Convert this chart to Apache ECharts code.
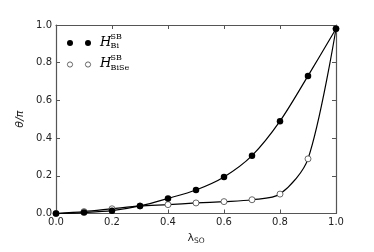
<!DOCTYPE html>
<html><head><meta charset="utf-8">
<script src="https://cdn.jsdelivr.net/npm/echarts@6/dist/echarts.min.js"></script>
<style>html,body{margin:0;padding:0;background:#fff}#c{width:374px;height:252px}</style>
</head><body><div id="c"></div>
<script>
const lambdaSO = [0.0, 0.1, 0.2, 0.3, 0.4, 0.5, 0.6, 0.7, 0.8, 0.9, 1.0];
const thetaBi = [0.0, 0.005, 0.015, 0.04, 0.08, 0.125, 0.194, 0.307, 0.49, 0.73, 0.98];
const thetaBiSe = [0.0, 0.01, 0.025, 0.04, 0.047, 0.056, 0.063, 0.073, 0.103, 0.29, 0.98];
const xTicks = [0.0, 0.2, 0.4, 0.6, 0.8, 1.0];
const yTicks = [0.0, 0.2, 0.4, 0.6, 0.8, 1.0];

const chart = echarts.init(document.getElementById('c'), null, {renderer: 'canvas'});
const axisCol = '#555';
const lab = {fontFamily: 'DejaVu Sans', fontSize: 10, color: '#222'};
function axisBase(extra) {
  return Object.assign({
    type: 'value', min: 0, max: 1, interval: 0.2,
    axisLine: {show: true, onZero: false, lineStyle: {color: axisCol, width: 1.2}},
    axisTick: {show: true, inside: true, length: 4, lineStyle: {color: axisCol}},
    splitLine: {show: false}
  }, extra);
}
chart.setOption({
  animation: false,
  grid: {left: 56, right: 38, top: 25, bottom: 38.5},
  xAxis: [
    axisBase({position: 'bottom',
      axisLabel: Object.assign({margin: 4, formatter: v => v.toFixed(1)}, lab),
      name: '{l|λ}{s|SO}', nameLocation: 'middle', nameGap: 17,
      nameTextStyle: {rich: {l: {fontFamily: 'DejaVu Sans', fontSize: 11, color: '#222'},
        s: {fontFamily: 'DejaVu Sans', fontSize: 7.5, color: '#222', verticalAlign: 'bottom', padding: [6, 0, 0, 0]}}}}),
    axisBase({position: 'top', axisLabel: {show: false}})
  ],
  yAxis: [
    axisBase({position: 'left',
      axisLabel: Object.assign({margin: 4, formatter: v => v.toFixed(1)}, lab),
      name: 'θ/π', nameLocation: 'middle', nameGap: 29, nameRotate: 90,
      nameTextStyle: {fontFamily: 'DejaVu Sans', fontStyle: 'italic', fontSize: 11, color: '#222'}}),
    axisBase({position: 'right', axisLabel: {show: false}})
  ],
  series: [
    {type: 'line', data: lambdaSO.map((x, i) => [x, thetaBi[i]]), smooth: 0.3,
     symbol: 'circle', symbolSize: 6.5, lineStyle: {color: '#000', width: 1.2},
     itemStyle: {color: '#000'}, z: 3},
    {type: 'line', data: lambdaSO.map((x, i) => [x, thetaBiSe[i]]), smooth: 0.3,
     symbol: 'circle', symbolSize: 6, lineStyle: {color: '#000', width: 1.2},
     itemStyle: {color: '#fff', borderColor: '#444', borderWidth: 0.8}, z: 2}
  ],
  graphic: [
    {type: 'circle', shape: {cx: 70, cy: 43, r: 3}, style: {fill: '#000'}},
    {type: 'circle', shape: {cx: 88, cy: 43, r: 3}, style: {fill: '#000'}},
    {type: 'circle', shape: {cx: 70, cy: 64.5, r: 2.6}, style: {fill: '#fff', stroke: '#444', lineWidth: 0.8}},
    {type: 'circle', shape: {cx: 88, cy: 64.5, r: 2.6}, style: {fill: '#fff', stroke: '#444', lineWidth: 0.8}},
    {type: 'text', left: 100, top: 36, style: {text: 'H', font: 'italic 13px "DejaVu Serif"', fill: '#000'}},
    {type: 'text', left: 110.5, top: 32.5, style: {text: 'SB', font: '8px "DejaVu Serif"', fill: '#000'}},
    {type: 'text', left: 110.5, top: 42, style: {text: 'Bi', font: '8px "DejaVu Serif"', fill: '#000'}},
    {type: 'text', left: 100, top: 57.5, style: {text: 'H', font: 'italic 13px "DejaVu Serif"', fill: '#000'}},
    {type: 'text', left: 110.5, top: 54, style: {text: 'SB', font: '8px "DejaVu Serif"', fill: '#000'}},
    {type: 'text', left: 110.5, top: 63.5, style: {text: 'BiSe', font: '8px "DejaVu Serif"', fill: '#000'}}
  ]
});
</script></body></html>
